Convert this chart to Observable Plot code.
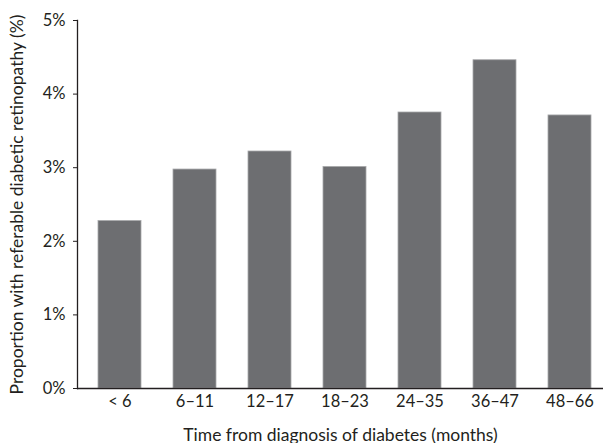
<!DOCTYPE html>
<html>
<head>
<meta charset="utf-8">
<script src="https://cdn.jsdelivr.net/npm/d3@7"></script>
<script src="https://cdn.jsdelivr.net/npm/@observablehq/plot@0.6"></script>
<style>
  html, body { margin: 0; padding: 0; background: #fff; }
  #chart svg { display: block; }
</style>
</head>
<body>
<div id="chart"></div>
<script>
const categories = ["< 6", "6–11", "12–17", "18–23", "24–35", "36–47", "48–66"];
const values = [2.275, 2.975, 3.22, 3.01, 3.75, 4.46, 3.71];
const yTicks = [0, 1, 2, 3, 4, 5];

const data = categories.map((c, i) => ({period: c, value: values[i]}));

const chart = Plot.plot({
  width: 603,
  height: 443,
  marginTop: 20,
  marginLeft: 77,
  marginRight: 0,
  marginBottom: 55,
  style: {fontFamily: "Lato, sans-serif", fontSize: "16px", color: "#231f20", background: "#fff"},
  x: {domain: categories, paddingInner: 0.43, paddingOuter: 0.178, align: 0.63, label: null},
  y: {domain: [0, 5], label: null},
  marks: [
    Plot.barY(data, {x: "period", y: "value", fill: "#6d6e71", stroke: "#a7a8aa", strokeWidth: 0.8}),
    Plot.axisY({ticks: yTicks, tickFormat: d => d + "%", tickSize: 4, tickPadding: 8, stroke: "#231f20", fontSize: 16.5, label: null}),
    Plot.axisY({ticks: [], tickSize: 0, fontSize: 17.5,
      label: "Proportion with referable diabetic retinopathy (%)", labelAnchor: "center", labelArrow: "none", labelOffset: 67}),
    Plot.frame({anchor: "left", stroke: "#231f20", strokeWidth: 1.3}),
    Plot.axisX({tickSize: 0, tickPadding: 7, fontSize: 16.5, label: null}),
    Plot.axisX({ticks: [], tickSize: 0, fontSize: 17.5, label: "Time from diagnosis of diabetes (months)", labelAnchor: "center", labelArrow: "none", labelOffset: 52}),
    Plot.ruleY([0], {stroke: "#231f20", strokeWidth: 1.3})
  ]
});
document.getElementById("chart").append(chart);
</script>
</body>
</html>
